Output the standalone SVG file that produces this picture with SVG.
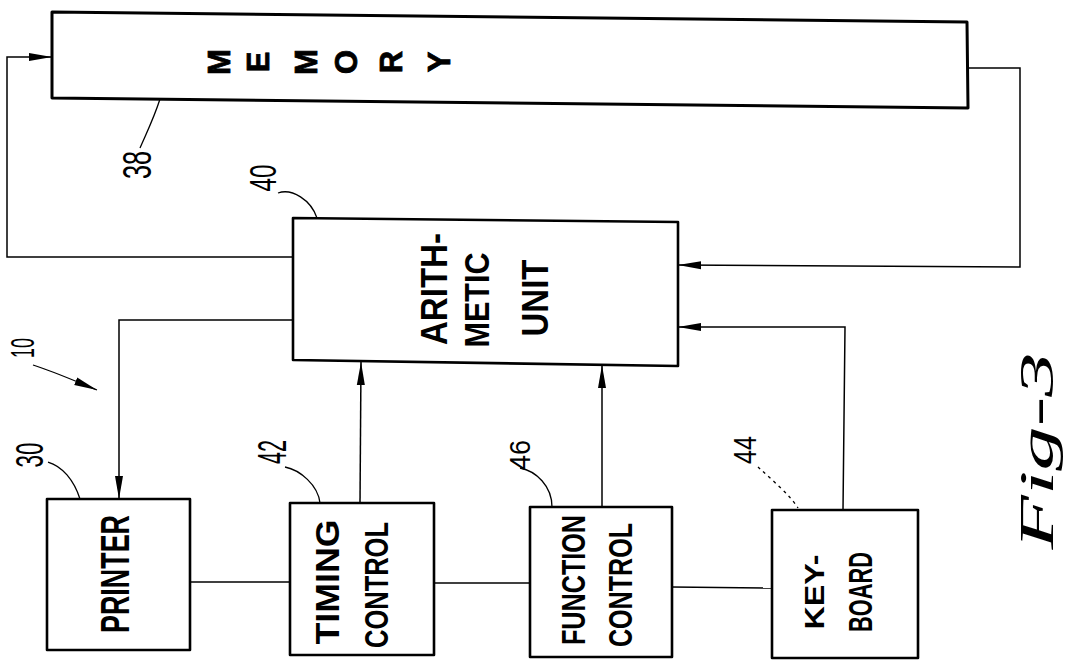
<svg xmlns="http://www.w3.org/2000/svg" width="1077" height="661" viewBox="0 0 1077 661">
<style>
.box{fill:#fff;stroke:#000;stroke-width:2.6;stroke-linejoin:round}
.con{fill:none;stroke:#000;stroke-width:1.5}
.lead{fill:none;stroke:#000;stroke-width:1.3}
.t{font-family:"Liberation Sans",Arial,sans-serif;font-weight:bold;fill:#000}
.m{font-family:"Liberation Sans",Arial,sans-serif;font-weight:bold;fill:#000;stroke:#000;stroke-width:0.8;font-size:31px}
.n{font-family:"Liberation Sans",Arial,sans-serif;fill:#000}
</style>
<defs>
<marker id="ah" markerUnits="userSpaceOnUse" markerWidth="23" markerHeight="10" refX="23" refY="5" orient="auto">
<path d="M0,1 L23,5 L0,9 z" fill="#000"/>
</marker>
</defs>
<rect width="1077" height="661" fill="#fff"/>

<g id="connectors">
<path class="con" d="M293,257 L7,257 L7,57 L52,57" marker-end="url(#ah)"/>
<path class="con" d="M968,68 L1020,68 L1020,267 L678,265" marker-end="url(#ah)"/>
<path class="con" d="M293,320 L119,320 L119,499" marker-end="url(#ah)"/>
<path class="con" d="M360,503 L361,362" marker-end="url(#ah)"/>
<path class="con" d="M602,507 L602,365" marker-end="url(#ah)"/>
<path class="con" d="M843,510 L845,327 L678,327" marker-end="url(#ah)"/>
<path class="con" d="M190,582 L290,582"/>
<path class="con" d="M434,583 L530,583"/>
<path class="con" d="M672,587 L772,588"/>
</g>

<g id="memory">
<path class="box" d="M52,12 L967,22 L968,108 L52,98 Z" style="stroke-width:3"/>
<text class="m" transform="translate(219,62) rotate(-90)" text-anchor="middle" y="11">M</text>
<text class="m" transform="translate(258,62) rotate(-90)" text-anchor="middle" y="11">E</text>
<text class="m" transform="translate(306,62) rotate(-90)" text-anchor="middle" y="11">M</text>
<text class="m" transform="translate(346,62) rotate(-90)" text-anchor="middle" y="11">O</text>
<text class="m" transform="translate(391,62) rotate(-90)" text-anchor="middle" y="11">R</text>
<text class="m" transform="translate(439,62) rotate(-90)" text-anchor="middle" y="11">Y</text>
<path class="lead" d="M140,148 C146,134 154,118 160,99"/>
<text class="n" font-size="40" transform="translate(137,165) rotate(-90)" text-anchor="middle" y="14" textLength="28" lengthAdjust="spacingAndGlyphs">38</text>
</g>

<g id="arith">
<path class="box" d="M293,218 L678,222 L678,366 L293,360 Z"/>
<text class="t" font-size="37" transform="translate(434,289) rotate(-90)" text-anchor="middle" y="13" textLength="112" lengthAdjust="spacingAndGlyphs">ARITH-</text>
<text class="t" font-size="35" transform="translate(477,300) rotate(-90)" text-anchor="middle" y="12" textLength="95" lengthAdjust="spacingAndGlyphs">METIC</text>
<text class="t" font-size="36" transform="translate(535,298) rotate(-90)" text-anchor="middle" y="13" textLength="77" lengthAdjust="spacingAndGlyphs">UNIT</text>
<path class="lead" d="M278,193 C292,188 311,200 317,218"/>
<text class="n" font-size="37" transform="translate(263,178) rotate(-90)" text-anchor="middle" y="13" textLength="27" lengthAdjust="spacingAndGlyphs">40</text>
</g>

<g id="printer">
<rect class="box" x="47" y="499" width="143" height="151"/>
<text class="t" font-size="40" transform="translate(115,574) rotate(-90)" text-anchor="middle" y="14" textLength="118" lengthAdjust="spacingAndGlyphs">PRINTER</text>
<path class="lead" d="M48,462 C62,466 74,480 80,499"/>
<text class="n" font-size="38" transform="translate(29,455) rotate(-90)" text-anchor="middle" y="14" textLength="25" lengthAdjust="spacingAndGlyphs">30</text>
</g>

<g id="timing">
<rect class="box" x="290" y="503" width="144" height="152"/>
<text class="t" font-size="33" transform="translate(327,582) rotate(-90)" text-anchor="middle" y="12" textLength="125" lengthAdjust="spacingAndGlyphs">TIMING</text>
<text class="t" font-size="34" transform="translate(376,585) rotate(-90)" text-anchor="middle" y="12" textLength="126" lengthAdjust="spacingAndGlyphs">CONTROL</text>
<path class="lead" d="M285,467 C300,470 318,485 320,503"/>
<text class="n" font-size="40" transform="translate(272,452) rotate(-90)" text-anchor="middle" y="14" textLength="24" lengthAdjust="spacingAndGlyphs">42</text>
</g>

<g id="function">
<rect class="box" x="530" y="507" width="142" height="150"/>
<text class="t" font-size="33" transform="translate(573,580) rotate(-90)" text-anchor="middle" y="12" textLength="130" lengthAdjust="spacingAndGlyphs">FUNCTION</text>
<text class="t" font-size="33" transform="translate(620,585) rotate(-90)" text-anchor="middle" y="12" textLength="124" lengthAdjust="spacingAndGlyphs">CONTROL</text>
<path class="lead" d="M520,468 C536,471 552,486 552,507"/>
<text class="n" font-size="30" transform="translate(519,455) rotate(-90)" text-anchor="middle" y="11" textLength="30" lengthAdjust="spacingAndGlyphs">46</text>
</g>

<g id="keyboard">
<rect class="box" x="772" y="510" width="146" height="148"/>
<text class="t" font-size="28" transform="translate(814,592) rotate(-90)" text-anchor="middle" y="10" textLength="75" lengthAdjust="spacingAndGlyphs">KEY-</text>
<text class="t" font-size="34" transform="translate(860,592) rotate(-90)" text-anchor="middle" y="12" textLength="80" lengthAdjust="spacingAndGlyphs">BOARD</text>
<path class="lead" d="M758,467 C772,480 790,495 798,508" stroke="#999" stroke-dasharray="3,4"/>
<text class="n" font-size="32" transform="translate(745,450) rotate(-90)" text-anchor="middle" y="11" textLength="28" lengthAdjust="spacingAndGlyphs" fill="#666">44</text>
</g>

<g id="system-label">
<path class="lead" d="M33,365 C55,372 75,381 97,390" stroke-width="1.6" marker-end="url(#ah)"/>
<text class="n" font-size="34" transform="translate(22,348) rotate(-90)" text-anchor="middle" y="12" textLength="20" lengthAdjust="spacingAndGlyphs">10</text>
</g>

<g id="figure-label">
<text font-family="Liberation Serif, serif" font-style="italic" font-size="48" transform="translate(1037,451) rotate(-90)" text-anchor="middle" y="16" textLength="197" lengthAdjust="spacingAndGlyphs">Fig-3</text>
</g>
</svg>
